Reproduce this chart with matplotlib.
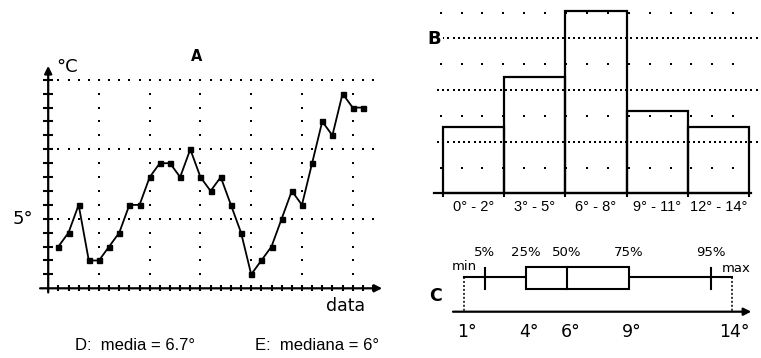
import numpy as np
import matplotlib
matplotlib.use("Agg")
import matplotlib.pyplot as plt
from matplotlib.patches import Rectangle

# ---------------- data ----------------
days = list(range(1, 32))
temps = [3, 4, 6, 2, 2, 3, 4, 6, 6, 8, 9, 9, 8, 10, 8, 7, 8, 6, 4, 1,
         2, 3, 5, 7, 6, 9, 12, 11, 14, 13, 13]

hist_labels = ["0° - 2°", "3° - 5°", "6° - 8°", "9° - 11°", "12° - 14°"]
hist_counts = [4, 7, 11, 5, 4]

box_names = ["min", "5%", "25%", "50%", "75%", "95%", "max"]
box_values = [1, 2, 4, 6, 9, 13, 14]
box_axis_ticks = [1, 4, 6, 9, 14]

mean_text = "D:  media = 6.7°"
median_text = "E:  mediana = 6°"

W, H = 761, 358
fig = plt.figure(figsize=(W / 100, H / 100), dpi=100)
fig.patch.set_facecolor("white")


def rect(l, t, r, b):
    return [l / W, 1 - b / H, (r - l) / W, (b - t) / H]


def fx(px):
    return px / W


def fy(py):
    return 1 - py / H


K = "black"

# ---------------- panel A ----------------
x0, sx = 48.2, 10.15
y0, sy = 288.3, 13.9
xlA = (-1.5, 33.5)
ylA = (-1.0, 16.5)
axA = fig.add_axes(rect(x0 + xlA[0] * sx, y0 - ylA[1] * sy, x0 + xlA[1] * sx, y0 - ylA[0] * sy))
axA.set_xlim(*xlA)
axA.set_ylim(*ylA)
axA.axis("off")

# grid dots
gx = np.arange(1, 33)
for gy in (5, 10, 15):
    axA.plot(gx, np.full(gx.size, gy), ls="none", marker="s", ms=1.6, color=K, mew=0)
vy = np.arange(1, 16)
for vx in range(5, 31, 5):
    axA.plot(np.full(vy.size, vx), vy, ls="none", marker="s", ms=1.6, color=K, mew=0)

# axes with arrows
axA.annotate("", xy=(0, 16.0), xytext=(0, -0.3),
             arrowprops=dict(arrowstyle="-|>", lw=1.6, color=K, mutation_scale=11,
                             shrinkA=0, shrinkB=0))
axA.annotate("", xy=(32.9, 0), xytext=(-0.8, 0),
             arrowprops=dict(arrowstyle="-|>", lw=1.6, color=K, mutation_scale=11,
                             shrinkA=0, shrinkB=0))
axA.plot(np.zeros(15), np.arange(1, 16), ls="none", marker="_", ms=6.5, mew=1.5, color=K)
axA.plot(np.arange(1, 33), np.zeros(32), ls="none", marker="|", ms=4, mew=1.5, color=K)

axA.plot(days, temps, "-s", color=K, lw=1.3, ms=3.6)

axA.text(0.8, 15.9, "°C", fontsize=13, ha="left", va="center")
axA.text(-1.5, 5, "5°", fontsize=13, ha="right", va="center")
axA.text(29.3, -1.3, "data", fontsize=12.5, ha="center", va="center")
fig.text(fx(196.7), fy(56.7), "A", fontsize=10.5, fontweight="bold", ha="center", va="center")

# ---------------- panel B ----------------
bx0, bsx = 442.7, 61.3
by0, bsy = 193.3, 16.55
xlB = (-0.3, 5.2)
ylB = (-0.5, 11.5)
axB = fig.add_axes(rect(bx0 + xlB[0] * bsx, by0 - ylB[1] * bsy, bx0 + xlB[1] * bsx, by0 - ylB[0] * bsy))
axB.set_xlim(*xlB)
axB.set_ylim(*ylB)
for s in ("left", "right", "top"):
    axB.spines[s].set_visible(False)
axB.spines["bottom"].set_position(("data", 0))
axB.spines["bottom"].set_bounds(-0.15, 5.03)
axB.spines["bottom"].set_linewidth(1.6)
axB.set_yticks([])

step = 25.8 / bsy
sparse_x = np.arange(-0.033, 5.02, 20.9 / bsx)
dense_x = np.arange(-0.077, 5.13, 20.9 / bsx / 4)
for k in range(1, 8):
    xs = sparse_x if k % 2 == 1 else dense_x
    axB.plot(xs, np.full(xs.size, k * step), ls="none", marker="s", ms=1.5, mew=0, color=K)

axB.bar(np.arange(len(hist_counts)), hist_counts, width=1.0, align="edge",
        fill=False, edgecolor=K, linewidth=1.6)
axB.set_xticks(np.arange(len(hist_counts) + 1))
axB.set_xticklabels([])
axB.tick_params(axis="x", which="major", direction="out", length=3, width=1.5)
axB.set_xticks(np.arange(len(hist_counts)) + 0.5, minor=True)
axB.set_xticklabels(hist_labels, minor=True, fontsize=10.5, family="Liberation Sans")
axB.tick_params(axis="x", which="minor", length=0, pad=5)
fig.text(fx(434.5), fy(38.5), "B", fontsize=13, fontweight="bold", ha="center", va="center",
         bbox=dict(facecolor="white", edgecolor="none", pad=1))

# ---------------- panel C ----------------
cx0, csx = 464.3, 20.57
cy0, csy = 276.7, 10.0
xlC = (0.0, 15.4)
ylC = (-7.5, 3.7)
axC = fig.add_axes(rect(cx0 + (xlC[0] - 1) * csx, cy0 - ylC[1] * csy, cx0 + (xlC[1] - 1) * csx, cy0 - ylC[0] * csy))
axC.set_xlim(*xlC)
axC.set_ylim(*ylC)
axC.axis("off")

vmin, p5, q1, med, q3, p95, vmax = box_values
axC.plot([vmin, vmax], [0, 0], color=K, lw=1.5)
axC.add_patch(Rectangle((q1, -1.2), q3 - q1, 2.2, facecolor="white", edgecolor=K, lw=1.5, zorder=3))
axC.plot([med, med], [-1.2, 1.0], color=K, lw=1.5, zorder=4)
for v in (p5, p95):
    axC.plot([v, v], [-1.2, 0.9], color=K, lw=1.5)
for v in (vmin, vmax):
    axC.plot([v, v], [0, -3.5], color=K, lw=1.1, ls=(0, (1.3, 1.3)))
axC.annotate("", xy=(14.95, -3.5), xytext=(0.45, -3.5),
             arrowprops=dict(arrowstyle="-|>", lw=1.6, color=K, mutation_scale=11,
                             shrinkA=0, shrinkB=0))

for name, v in zip(box_names, box_values):
    if name == "min":
        axC.text(v, 1.0, name, fontsize=9.5, ha="center", va="center")
    elif name == "max":
        axC.text(v + 0.2, 0.85, name, fontsize=9.5, ha="center", va="center")
    else:
        axC.text(v, 2.4, name, fontsize=9.5, ha="center", va="center")
for t in box_axis_ticks:
    axC.text(t + 0.15, -5.5, f"{t}°", fontsize=12.5, ha="center", va="center")
fig.text(fx(435), fy(296), "C", fontsize=12.5, fontweight="bold", ha="center", va="center")

# ---------------- bottom texts ----------------
fig.text(fx(75), fy(345), mean_text, fontsize=12, family="Liberation Sans", ha="left", va="center")
fig.text(fx(255), fy(345), median_text, fontsize=12, family="Liberation Sans", ha="left", va="center")

fig.savefig("out.png", dpi=100, facecolor="white")
